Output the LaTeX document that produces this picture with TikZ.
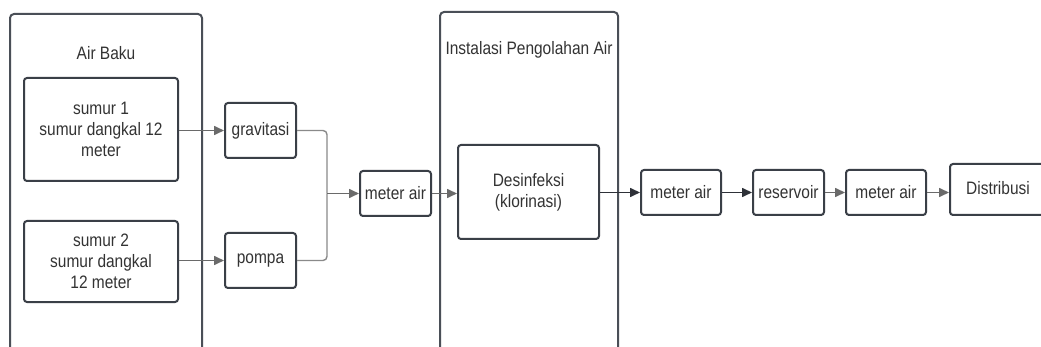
\documentclass[tikz,border=0pt]{standalone}
\usepackage{fontspec}
\setmainfont{Liberation Sans}[FakeStretch=0.86]
\usetikzlibrary{arrows.meta}
\definecolor{boxc}{HTML}{3A3F47}
\definecolor{framec}{HTML}{4A4F57}
\definecolor{txtc}{HTML}{333333}
\definecolor{linec}{HTML}{6A6A6A}
\definecolor{mergec}{HTML}{8A8A8A}
\definecolor{darkc}{HTML}{2E3138}
\tikzset{
  x=1pt, y=-1pt,
  every node/.style={font=\fontsize{18}{21}\selectfont, text=txtc},
  stepbox/.style={draw=boxc, line width=2pt, rounded corners=3pt, align=center, inner sep=0pt},
  framebox/.style={draw=framec, line width=2pt, rounded corners=4pt, inner sep=0pt},
  flow/.style={draw=linec, line width=1.6pt, -{Triangle[length=10pt,width=9pt]}},
  darkflow/.style={draw=darkc, line width=1.6pt, -{Triangle[length=10pt,width=9pt]}},
  merge/.style={draw=mergec, line width=1.4pt, rounded corners=4pt},
}
\begin{document}
\begin{tikzpicture}
\useasboundingbox (0,0) rectangle (1041,347);
\clip (0,0) rectangle (1041,347);
\fill[white] (0,0) rectangle (1041,347);

% the two grouping frames (they run past the lower edge)
\node[framebox, minimum width=192, minimum height=350] (baku) at (106,189) {};
\node (bakutitle) at (106,53) {Air Baku};
\node[framebox, minimum width=178, minimum height=352] (ipa) at (529,188) {};
\node (ipatitle) at (529,50) {Instalasi Pengolahan Air};

% process steps
\node[stepbox, minimum width=154, minimum height=103] (s1) at (101,129.5) {sumur 1\\sumur dangkal 12\\meter};
\node[stepbox, minimum width=154, minimum height=81] (s2) at (101,261.5) {sumur 2\\sumur dangkal\\12 meter};
\node[stepbox, minimum width=71, minimum height=55] (grav) at (260.5,130.5) {gravitasi};
\node[stepbox, minimum width=71, minimum height=55] (pompa) at (260.5,260.5) {pompa};
\node[stepbox, minimum width=71, minimum height=45] (m1) at (395.5,193.5) {meter air};
\node[stepbox, minimum width=141, minimum height=94] (desinf) at (528.5,192) {Desinfeksi\\(klorinasi)};
\node[stepbox, minimum width=80, minimum height=45] (m2) at (681,192.5) {meter air};
\node[stepbox, minimum width=71, minimum height=45] (res) at (788.5,192.5) {reservoir};
\node[stepbox, minimum width=80, minimum height=45] (m3) at (886,192.5) {meter air};
\node[stepbox, minimum width=96, minimum height=51] (dist) at (998,189.5) {\raisebox{3.5pt}{Distribusi}};

% connectors
\coordinate (join) at (327,193.5);
\draw[flow] (s1.east |- grav.west) -- (grav.west);
\draw[flow] (s2.east |- pompa.west) -- (pompa.west);
\draw[merge] (grav.east) -| (join);
\draw[merge] (pompa.east) -| (join);
\draw[flow] (join) -- (m1.west);
\draw[flow] (m1.east) -- (desinf.west |- m1.east);
\draw[darkflow] (desinf.east |- m2.west) -- (m2.west);
\draw[darkflow] (m2.east) -- (res.west);
\draw[flow] (res.east) -- (m3.west);
\draw[flow] (m3.east) -- (dist.west |- m3.east);
\end{tikzpicture}
\end{document}
